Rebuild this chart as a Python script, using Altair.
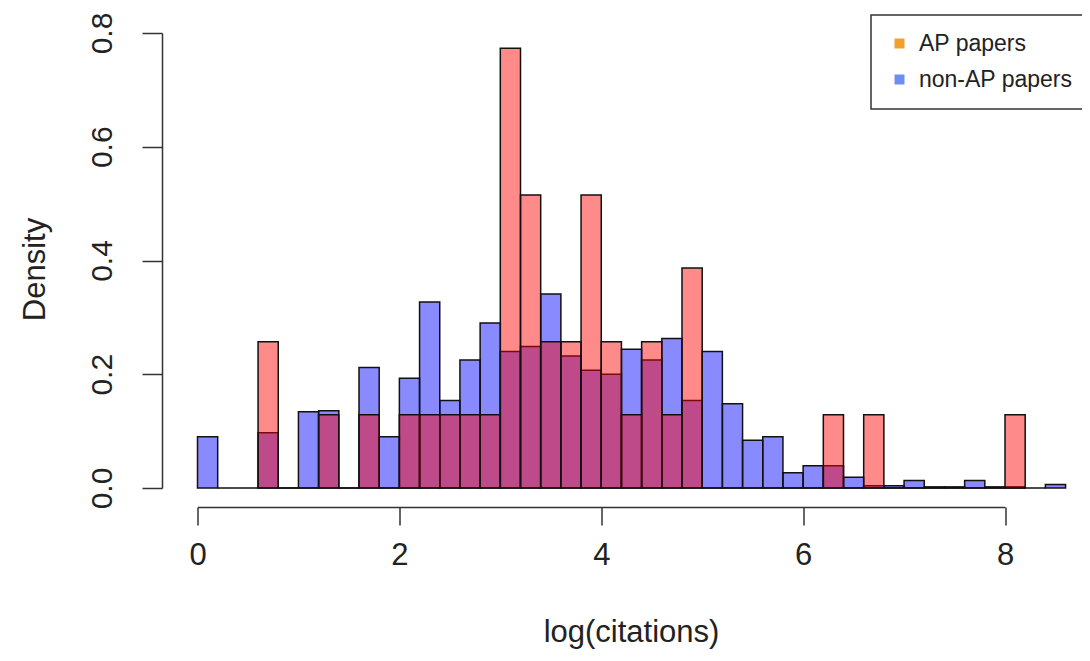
import altair as alt
import pandas as pd

# bin left edges (width 0.2) for log(citations)
bin_starts = [0.0, 0.2, 0.4, 0.6, 0.8, 1.0, 1.2, 1.4, 1.6, 1.8,
              2.0, 2.2, 2.4, 2.6, 2.8, 3.0, 3.2, 3.4, 3.6, 3.8,
              4.0, 4.2, 4.4, 4.6, 4.8, 5.0, 5.2, 5.4, 5.6, 5.8,
              6.0, 6.2, 6.4, 6.6, 6.8, 7.0, 7.2, 7.4, 7.6, 7.8,
              8.0, 8.2, 8.4]
bin_width = 0.2

# non-AP papers density (blue), one value per bin above
nonap_density = [0.090, 0.000, 0.000, 0.097, 0.000, 0.134, 0.136, 0.000, 0.212, 0.090,
                 0.193, 0.327, 0.154, 0.225, 0.290, 0.240, 0.249, 0.341, 0.232, 0.207,
                 0.200, 0.244, 0.225, 0.263, 0.154, 0.240, 0.148, 0.084, 0.090, 0.027,
                 0.039, 0.039, 0.019, 0.004, 0.004, 0.013, 0.002, 0.002, 0.013, 0.002,
                 0.002, 0.000, 0.006]

# AP papers density (red), bins from 0.6 to 8.0
ap_starts = [0.6, 0.8, 1.0, 1.2, 1.4, 1.6, 1.8, 2.0, 2.2, 2.4,
             2.6, 2.8, 3.0, 3.2, 3.4, 3.6, 3.8, 4.0, 4.2, 4.4,
             4.6, 4.8, 5.0, 5.2, 5.4, 5.6, 5.8, 6.0, 6.2, 6.4,
             6.6, 6.8, 7.0, 7.2, 7.4, 7.6, 7.8, 8.0]
ap_density = [0.257, 0.000, 0.000, 0.129, 0.000, 0.129, 0.000, 0.129, 0.129, 0.129,
              0.129, 0.129, 0.773, 0.515, 0.257, 0.257, 0.515, 0.257, 0.129, 0.257,
              0.129, 0.387, 0.000, 0.000, 0.000, 0.000, 0.000, 0.000, 0.129, 0.000,
              0.129, 0.000, 0.000, 0.000, 0.000, 0.000, 0.000, 0.129]

legend_labels = ["AP papers", "non-AP papers"]
legend_colors = ["#F0A030", "#6F8FF0"]

x_ticks = [0, 2, 4, 6, 8]
y_ticks = [0.0, 0.2, 0.4, 0.6, 0.8]

FONT = "Liberation Sans"

nonap_df = pd.DataFrame({
    "start": bin_starts,
    "end": [s + bin_width for s in bin_starts],
    "density": nonap_density,
})
ap_df = pd.DataFrame({
    "start": ap_starts,
    "end": [s + bin_width for s in ap_starts],
    "density": ap_density,
})
legend_df = pd.DataFrame({"group": legend_labels})

x_scale = alt.Scale(domain=[0, 8], nice=False, zero=False)
y_scale = alt.Scale(domain=[0, 0.8], nice=False)

x_axis = alt.Axis(
    values=x_ticks, format="d", title="log(citations)", grid=False,
    offset=19, tickSize=18, labelPadding=39, labelBaseline="alphabetic",
    labelFontSize=31, labelFlush=False, labelOverlap=False,
    titleFontSize=31, titleFontWeight="normal", titleX=433.5, titleY=134,
    titleBaseline="alphabetic", titleAlign="center", titleAnchor="start",
)
y_axis = alt.Axis(
    values=y_ticks, format=".1f", title="Density", grid=False,
    offset=35.5, tickSize=20, labelPadding=40, labelAngle=270,
    labelAlign="center", labelBaseline="middle",
    labelFontSize=30, labelFlush=False, labelOverlap=False,
    titleFontSize=31, titleFontWeight="normal", titleAngle=270,
    titleX=-127, titleY=236, titleBaseline="middle", titleAlign="center",
    titleAnchor="start",
)

blue = alt.Chart(nonap_df).mark_rect(
    fill="#0000FF", fillOpacity=0.46, stroke="#111111", strokeWidth=1.5
).encode(
    x=alt.X("start:Q", scale=x_scale, axis=x_axis),
    x2="end:Q",
    y=alt.Y("density:Q", scale=y_scale, axis=y_axis),
    y2=alt.datum(0),
)

red = alt.Chart(ap_df).mark_rect(
    fill="#FF0000", fillOpacity=0.46, stroke="#111111", strokeWidth=1.5
).encode(
    x=alt.X("start:Q", scale=x_scale),
    x2="end:Q",
    y=alt.Y("density:Q", scale=y_scale),
    y2=alt.datum(0),
)

legend_layer = alt.Chart(legend_df).mark_point(
    filled=True, opacity=0, size=1
).encode(
    color=alt.Color(
        "group:N",
        scale=alt.Scale(domain=legend_labels, range=legend_colors),
        legend=alt.Legend(
            title=None, orient="none", legendX=673.5, legendY=-18,
            symbolType="square", symbolSize=100, symbolOpacity=1,
            symbolStrokeWidth=0, labelFontSize=23, labelOffset=8,
            labelLimit=500, rowPadding=12, padding=17, strokeColor="#333333",
            fillColor="#FFFFFF", labelFont=FONT, labelColor="#222222",
        ),
    )
)

chart = alt.layer(blue, red, legend_layer).properties(
    width=807.5,
    height=455,
    autosize=alt.AutoSizeParams(type="none"),
    padding={"left": 189.5, "top": 25, "right": 77, "bottom": 165},
).configure_view(
    stroke=None
).configure_axis(
    domainColor="#333333", tickColor="#333333", domainWidth=1.5, tickWidth=1.5,
    labelFont=FONT, titleFont=FONT, labelColor="#222222", titleColor="#222222",
).configure_legend(
    strokeWidth=1.5
)

chart.save("out.html", embed_options={"renderer": "svg", "actions": False})
